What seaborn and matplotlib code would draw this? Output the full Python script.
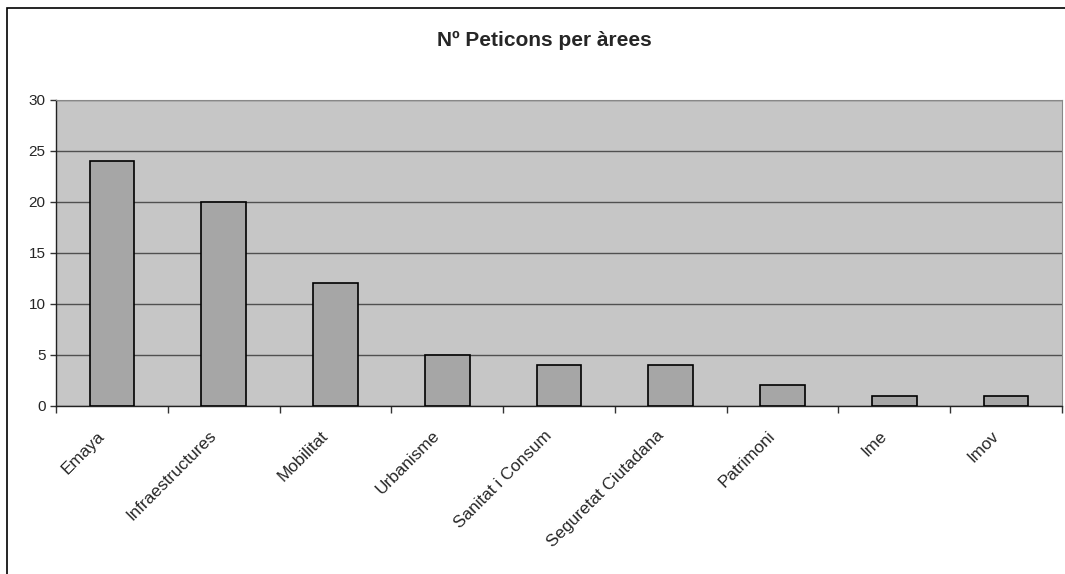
import numpy as np
import pandas as pd
import seaborn as sns
import matplotlib.pyplot as plt
from matplotlib.patches import Rectangle
from matplotlib.transforms import ScaledTranslation

# dades
arees = ["Emaya", "Infraestructures", "Mobilitat", "Urbanisme", "Sanitat i Consum",
         "Seguretat Ciutadana", "Patrimoni", "Ime", "Imov"]
peticions = [24, 20, 12, 5, 4, 4, 2, 1, 1]
yticks = [0, 5, 10, 15, 20, 25, 30]

df = pd.DataFrame({"area": arees, "n": peticions})

sns.set_style("white")
plt.rcParams["font.family"] = ["Liberation Sans", "DejaVu Sans"]

fig = plt.figure(figsize=(10.65, 5.74), dpi=100)
ax = fig.add_axes([0.0526, 0.293, 0.9444, 0.533])
ax.set_facecolor("#c6c6c6")

sns.barplot(data=df, x="area", y="n", color="#a6a6a6", edgecolor="black",
            linewidth=1.2, width=0.4, saturation=1, ax=ax, zorder=3)

ax.set_ylim(0, 30)
ax.set_xlim(-0.5, len(arees) - 0.5)
ax.set_yticks(yticks)
ax.yaxis.grid(True, color="#505050", linewidth=1.0, zorder=0)
ax.set_axisbelow(True)

# marques de l'eix x entre categories
ax.set_xticks(range(len(arees)))
ax.set_xticklabels(arees, rotation=45, ha="right", rotation_mode="anchor", fontsize=12.3)
ax.set_xticks(np.arange(-0.5, len(arees)), minor=True)
ax.tick_params(axis="x", which="major", bottom=True, length=0, pad=6)
ax.tick_params(axis="x", which="minor", bottom=True, length=5, width=1,
               direction="out", color="#333333")
ax.tick_params(axis="y", left=True, length=4, width=1, direction="out",
               color="#333333", labelsize=11)

# desplaçar etiquetes una mica avall i a l'esquerra
offset = ScaledTranslation(-0.15, -0.14, fig.dpi_scale_trans)
for lbl in ax.get_xticklabels():
    lbl.set_transform(lbl.get_transform() + offset)

for s in ["left", "bottom"]:
    ax.spines[s].set_color("#222222")
    ax.spines[s].set_linewidth(1)
for s in ["top", "right"]:
    ax.spines[s].set_color("#888888")
    ax.spines[s].set_linewidth(0.8)

ax.set_xlabel("")
ax.set_ylabel("")

fig.text(0.511, 0.92, "Nº Peticons per àrees", ha="center", va="baseline",
         fontsize=15, fontweight="bold")

# marc exterior del gràfic
fig.patches.append(Rectangle((0.007, -0.05), 1.2, 1.036, transform=fig.transFigure,
                             fill=False, edgecolor="black", linewidth=1.2))

fig.savefig("out.png", dpi=100)
